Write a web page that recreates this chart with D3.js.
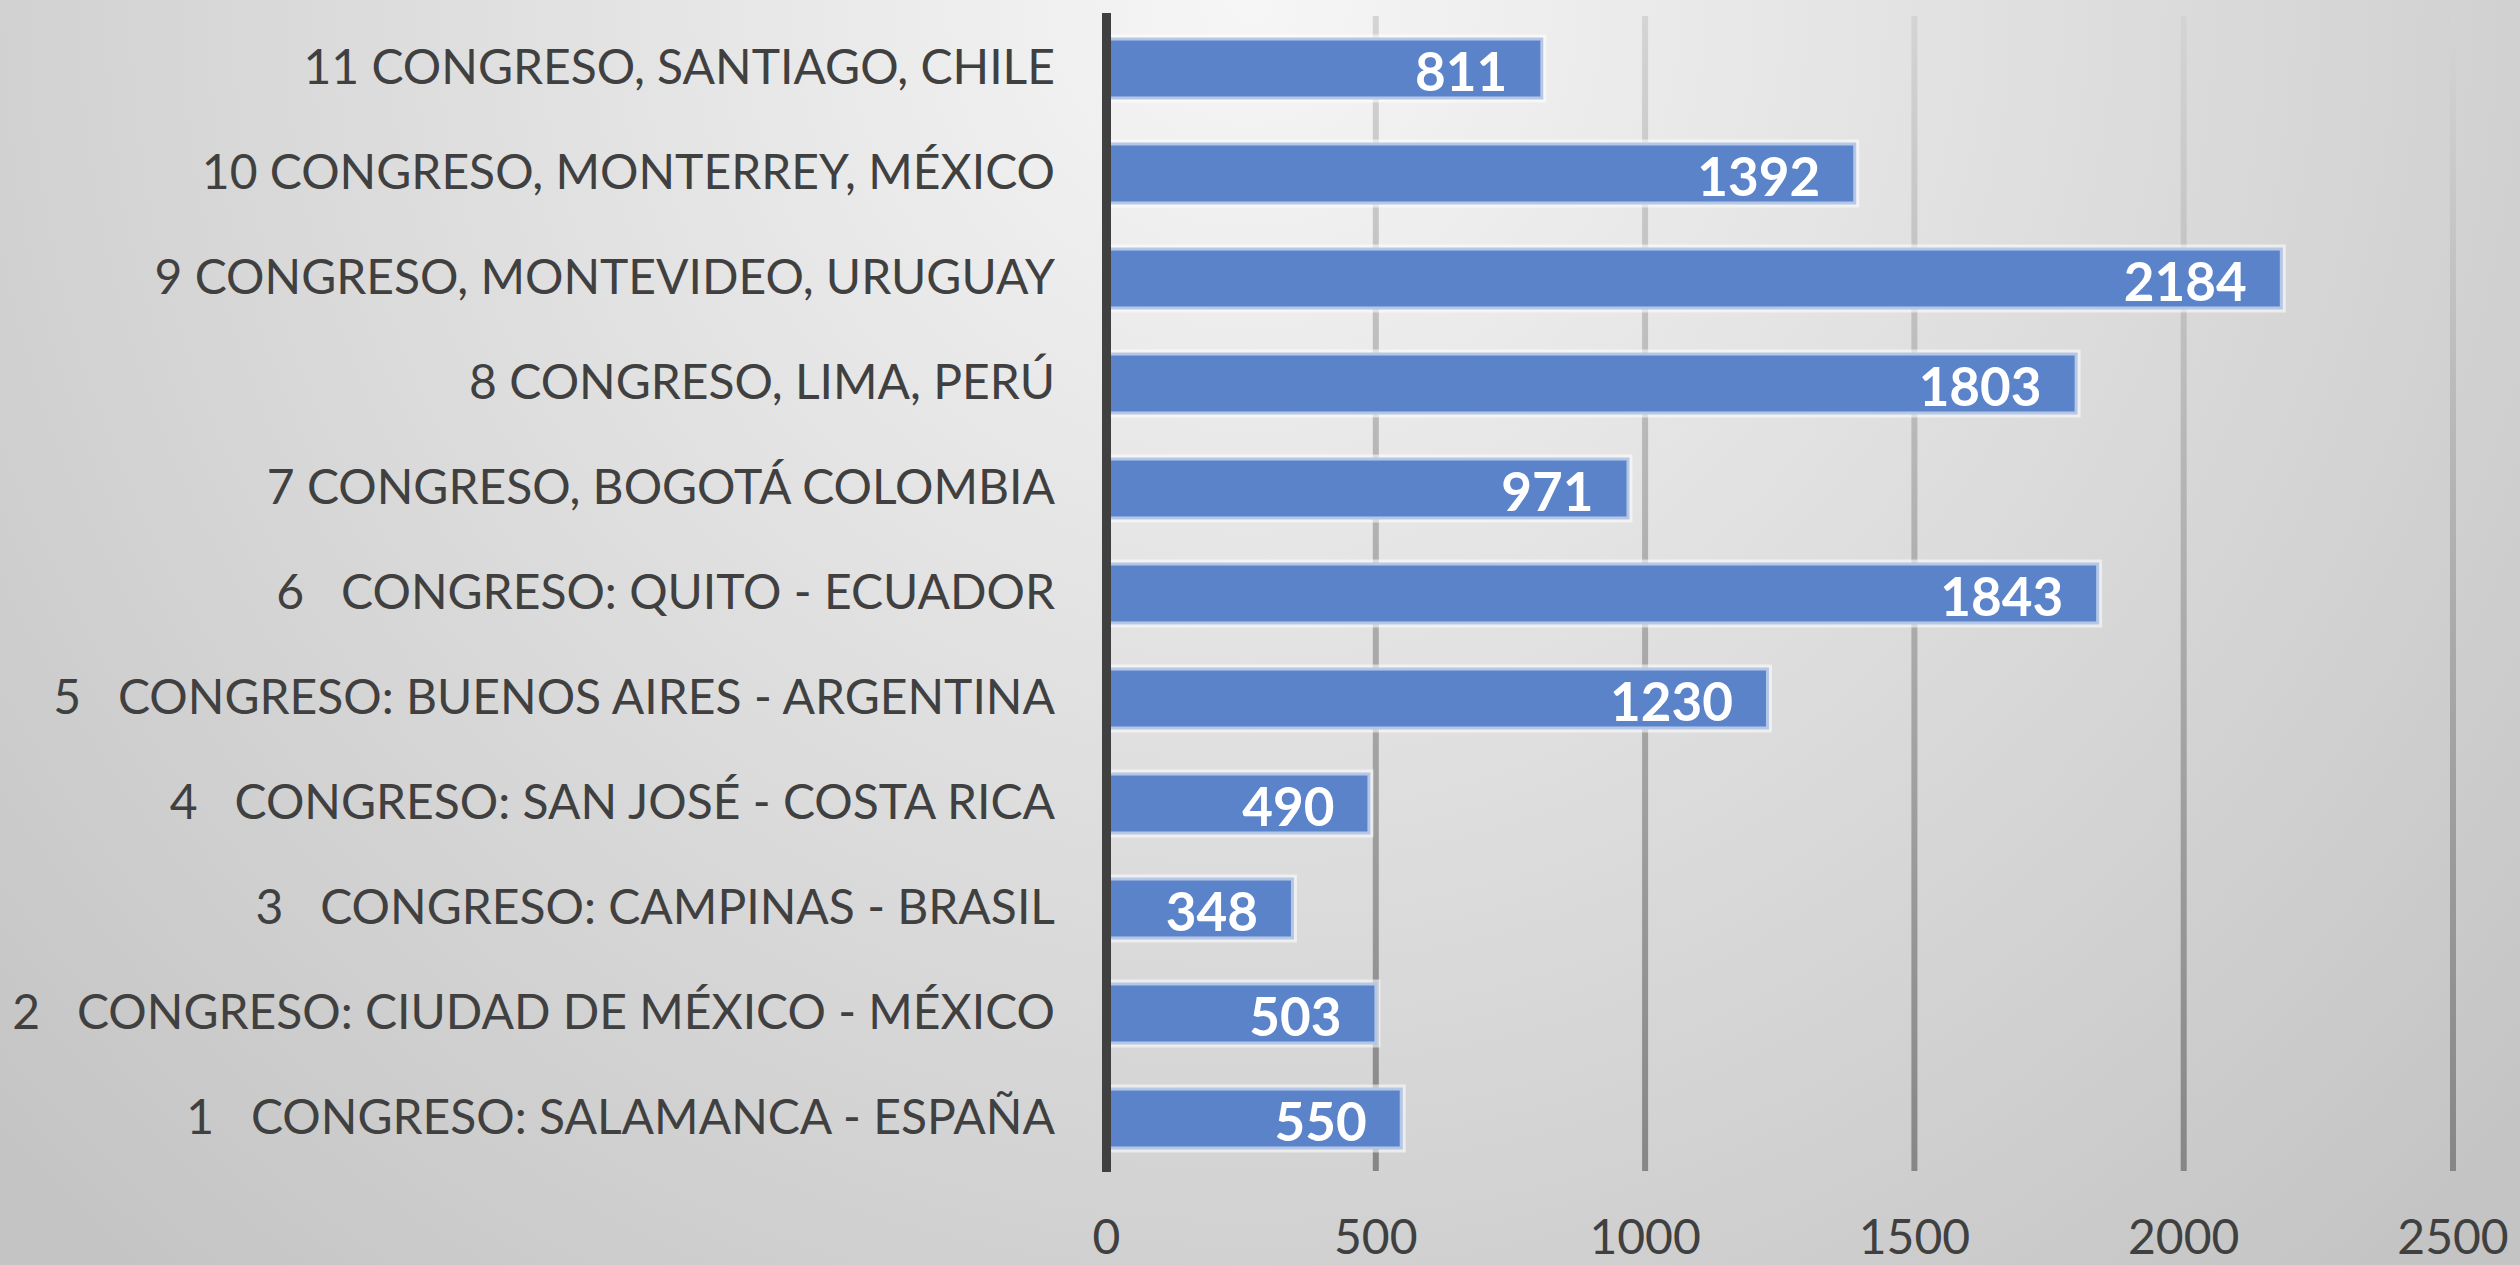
<!DOCTYPE html>
<meta charset="utf-8">
<style>
body { margin: 0; }
svg { display: block; }
.label { font: 48px "Lato", sans-serif; fill: #404040; white-space: pre; }
.value { font: bold 53px "Lato", sans-serif; fill: #fff; }
.tick-label { font: 48px "Lato", sans-serif; fill: #404040; }
</style>
<svg width="2520" height="1265"></svg>
<script src="https://cdn.jsdelivr.net/npm/d3@7"></script>
<script>
// congress names, oldest first
var congresses = [
  "1   CONGRESO: SALAMANCA - ESPAÑA",
  "2   CONGRESO: CIUDAD DE MÉXICO - MÉXICO",
  "3   CONGRESO: CAMPINAS - BRASIL",
  "4   CONGRESO: SAN JOSÉ - COSTA RICA",
  "5   CONGRESO: BUENOS AIRES - ARGENTINA",
  "6   CONGRESO: QUITO - ECUADOR",
  "7 CONGRESO, BOGOTÁ COLOMBIA",
  "8 CONGRESO, LIMA, PERÚ",
  "9 CONGRESO, MONTEVIDEO, URUGUAY",
  "10 CONGRESO, MONTERREY, MÉXICO",
  "11 CONGRESO, SANTIAGO, CHILE"
];
var participants = [550, 503, 348, 490, 1230, 1843, 971, 1803, 2184, 1392, 811];
var xTicks = [0, 500, 1000, 1500, 2000, 2500];

var svg = d3.select("svg"),
    W = +svg.attr("width"),
    H = +svg.attr("height");

var data = congresses.map(function(c, i) { return {name: c, value: participants[i]}; });

var x = d3.scaleLinear().domain([0, 2500]).range([1106.5, 2453]);
var y = d3.scaleBand()
    .domain(congresses.slice().reverse())
    .range([16, 1171])
    .paddingInner(0.41)
    .paddingOuter(0.205);

var defs = svg.append("defs");

// light grey radial background
var bg = defs.append("radialGradient")
    .attr("id", "bg")
    .attr("gradientUnits", "userSpaceOnUse")
    .attr("cx", 1250).attr("cy", 0).attr("r", 1700);
bg.append("stop").attr("offset", "0%").attr("stop-color", "#f6f6f6");
bg.append("stop").attr("offset", "100%").attr("stop-color", "#c4c4c4");

// gridlines fade from light (top) to darker (bottom)
var gg = defs.append("linearGradient")
    .attr("id", "grid-grad")
    .attr("gradientUnits", "userSpaceOnUse")
    .attr("x1", 0).attr("y1", y.range()[0])
    .attr("x2", 0).attr("y2", y.range()[1]);
gg.append("stop").attr("offset", "0%").attr("stop-color", "#d4d4d4");
gg.append("stop").attr("offset", "100%").attr("stop-color", "#868686");

svg.append("rect")
    .attr("width", W).attr("height", H)
    .attr("fill", "url(#bg)");

// gridlines
svg.append("g")
  .selectAll("rect")
  .data(xTicks.slice(1))
  .enter().append("rect")
    .attr("x", function(d) { return x(d) - 3; })
    .attr("y", y.range()[0])
    .attr("width", 6)
    .attr("height", y.range()[1] - y.range()[0])
    .attr("fill", "url(#grid-grad)");

// bars
svg.append("g")
  .selectAll("rect")
  .data(data)
  .enter().append("rect")
    .attr("x", x(0))
    .attr("y", function(d) { return y(d.name); })
    .attr("width", function(d) { return x(d.value) - x(0); })
    .attr("height", y.bandwidth())
    .attr("fill", "#5b83c9")
    .attr("stroke", "#fff")
    .attr("stroke-opacity", 0.55)
    .attr("stroke-width", 6);

// value labels inside bar ends
svg.append("g")
  .selectAll("text")
  .data(data)
  .enter().append("text")
    .attr("class", "value")
    .attr("text-anchor", "end")
    .attr("x", function(d) { return x(d.value) - 36; })
    .attr("y", function(d) { return y(d.name) + y.bandwidth() / 2 + 22; })
    .text(function(d) { return d.value; });

// zero axis line
svg.append("line")
    .attr("x1", x(0)).attr("x2", x(0))
    .attr("y1", 13).attr("y2", 1172)
    .attr("stroke", "#404040")
    .attr("stroke-width", 9);

// category labels
svg.append("g")
  .selectAll("text")
  .data(data)
  .enter().append("text")
    .attr("class", "label")
    .attr("xml:space", "preserve")
    .attr("text-anchor", "end")
    .attr("x", 1055)
    .attr("y", function(d) { return y(d.name) + y.bandwidth() / 2 + 15; })
    .text(function(d) { return d.name; });

// x tick labels
svg.append("g")
  .selectAll("text")
  .data(xTicks)
  .enter().append("text")
    .attr("class", "tick-label")
    .attr("text-anchor", "middle")
    .attr("x", function(d) { return x(d); })
    .attr("y", 1254)
    .text(function(d) { return d; });
</script>
